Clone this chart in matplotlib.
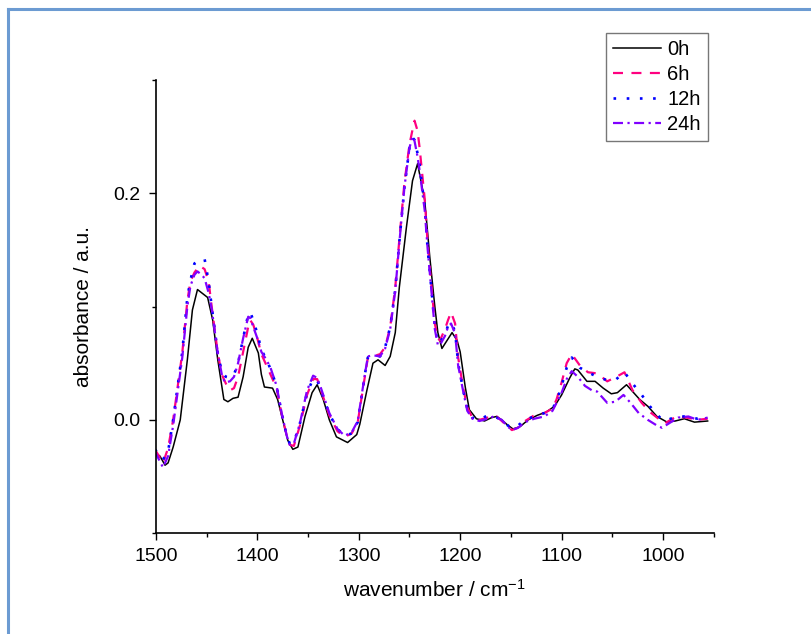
import numpy as np
import matplotlib.pyplot as plt
from matplotlib.lines import Line2D
from matplotlib.ticker import MultipleLocator, FormatStrFormatter

plt.rcParams['font.family'] = ['Liberation Sans', 'DejaVu Sans']
plt.rcParams['mathtext.default'] = 'regular'

# FTIR spectra, absorbance vs wavenumber for each exposure time
wn_0h = [1501, 1496, 1491, 1488, 1483, 1476, 1469, 1464, 1459, 1449, 1444, 1439, 1433, 1429,
         1424, 1419, 1414, 1409, 1405, 1399, 1396, 1393, 1385, 1380, 1375, 1370, 1365, 1360,
         1353, 1346, 1341, 1335, 1329, 1322, 1311, 1302, 1299, 1292, 1286, 1281, 1274, 1269,
         1264, 1260, 1253, 1247, 1242, 1235, 1230, 1225, 1222, 1218, 1213, 1208, 1203, 1200,
         1195, 1191, 1184, 1176, 1169, 1164, 1159, 1154, 1148, 1141, 1133, 1124, 1115, 1107,
         1100, 1092, 1087, 1084, 1075, 1067, 1059, 1051, 1045, 1036, 1031, 1023, 1015, 1006,
         996, 988, 979, 969, 956]
abs_0h = [-0.029, -0.032, -0.040, -0.038, -0.024, 0.000, 0.053, 0.097, 0.115, 0.108, 0.088, 0.053,
          0.018, 0.016, 0.019, 0.020, 0.038, 0.064, 0.072, 0.059, 0.040, 0.029, 0.028, 0.018,
          0.000, -0.018, -0.026, -0.024, 0.003, 0.024, 0.031, 0.018, 0.000, -0.015, -0.020,
          -0.013, -0.004, 0.026, 0.050, 0.053, 0.048, 0.056, 0.077, 0.117, 0.170, 0.211, 0.226,
          0.194, 0.144, 0.100, 0.077, 0.063, 0.070, 0.077, 0.070, 0.060, 0.029, 0.009, 0.001,
          -0.001, 0.002, 0.003, 0.000, -0.004, -0.008, -0.006, 0.000, 0.004, 0.007, 0.012, 0.022,
          0.037, 0.045, 0.044, 0.034, 0.034, 0.028, 0.023, 0.024, 0.031, 0.026, 0.018, 0.012,
          0.003, -0.002, -0.001, 0.001, -0.002, -0.001]

wn_t = [1501, 1493, 1488, 1483, 1474, 1469, 1466, 1462, 1457, 1452, 1448, 1445, 1439, 1435,
        1431, 1427, 1423, 1419, 1414, 1409, 1407, 1404, 1400, 1396, 1391, 1387, 1381, 1376,
        1371, 1368, 1364, 1358, 1351, 1345, 1341, 1338, 1329, 1321, 1314, 1307, 1301, 1294,
        1291, 1286, 1279, 1274, 1269, 1264, 1260, 1255, 1250, 1247, 1245, 1242, 1240, 1235,
        1232, 1228, 1225, 1222, 1220, 1215, 1212, 1209, 1205, 1202, 1197, 1193, 1188, 1181,
        1173, 1164, 1159, 1153, 1149, 1143, 1136, 1127, 1117, 1109, 1105, 1100, 1095, 1090,
        1082, 1074, 1065, 1055, 1046, 1038, 1030, 1021, 1013, 1003, 998, 987, 977, 966, 956]
abs_6h = [-0.026, -0.038, -0.025, 0.000, 0.059, 0.105, 0.122, 0.130, 0.136, 0.133, 0.122, 0.100,
          0.059, 0.040, 0.032, 0.026, 0.028, 0.038, 0.060, 0.082, 0.088, 0.084, 0.072, 0.058,
          0.048, 0.040, 0.028, 0.005, -0.014, -0.022, -0.023, -0.005, 0.022, 0.036, 0.036, 0.028,
          0.004, -0.010, -0.015, -0.012, -0.002, 0.038, 0.055, 0.056, 0.058, 0.064, 0.082, 0.117,
          0.159, 0.209, 0.243, 0.256, 0.264, 0.255, 0.240, 0.195, 0.155, 0.115, 0.085, 0.072,
          0.070, 0.080, 0.088, 0.095, 0.085, 0.055, 0.028, 0.011, 0.002, 0.000, 0.002, 0.003,
          -0.001, -0.006, -0.009, -0.007, -0.001, 0.004, 0.006, 0.010, 0.018, 0.033, 0.050, 0.058,
          0.048, 0.042, 0.041, 0.034, 0.038, 0.042, 0.026, 0.015, 0.007, 0.000, -0.003, 0.003,
          0.002, 0.000, 0.001]
abs_12h = [-0.026, -0.035, -0.028, 0.000, 0.060, 0.108, 0.123, 0.138, 0.141, 0.142, 0.122, 0.100,
           0.059, 0.042, 0.038, 0.037, 0.040, 0.050, 0.072, 0.093, 0.095, 0.088, 0.076, 0.062,
           0.053, 0.045, 0.030, 0.006, -0.014, -0.021, -0.020, -0.003, 0.024, 0.036, 0.035, 0.028,
           0.005, -0.008, -0.014, -0.012, -0.002, 0.040, 0.055, 0.057, 0.056, 0.064, 0.082, 0.115,
           0.157, 0.205, 0.240, 0.249, 0.247, 0.235, 0.225, 0.188, 0.150, 0.112, 0.082, 0.068,
           0.068, 0.076, 0.083, 0.086, 0.078, 0.050, 0.026, 0.010, 0.002, 0.000, 0.004, 0.002,
           0.000, -0.005, -0.007, -0.005, 0.000, 0.003, 0.006, 0.010, 0.016, 0.030, 0.046, 0.055,
           0.046, 0.042, 0.038, 0.035, 0.036, 0.042, 0.032, 0.022, 0.012, 0.002, -0.001, 0.003,
           0.003, 0.001, 0.002]

wn_24h = [1501, 1493, 1488, 1483, 1474, 1469, 1466, 1462, 1459, 1455, 1452, 1448, 1445, 1439,
          1435, 1432, 1427, 1423, 1419, 1414, 1409, 1407, 1404, 1400, 1396, 1391, 1387, 1381,
          1376, 1371, 1368, 1364, 1358, 1351, 1345, 1341, 1338, 1329, 1321, 1314, 1307, 1301,
          1294, 1291, 1286, 1279, 1274, 1269, 1264, 1260, 1255, 1250, 1247, 1245, 1242, 1240,
          1235, 1232, 1228, 1225, 1222, 1220, 1215, 1212, 1209, 1205, 1202, 1197, 1193, 1188,
          1181, 1173, 1167, 1159, 1153, 1149, 1143, 1136, 1127, 1117, 1109, 1105, 1100, 1095,
          1090, 1084, 1077, 1070, 1065, 1055, 1047, 1039, 1032, 1024, 1015, 1006, 1001, 994,
          985, 975, 966, 956]
abs_24h = [-0.028, -0.042, -0.032, -0.005, 0.055, 0.100, 0.118, 0.128, 0.131, 0.128, 0.125, 0.112,
           0.098, 0.059, 0.040, 0.033, 0.034, 0.038, 0.050, 0.072, 0.091, 0.090, 0.082, 0.072,
           0.060, 0.053, 0.046, 0.030, 0.006, -0.014, -0.022, -0.021, -0.003, 0.026, 0.039, 0.037,
           0.030, 0.006, -0.008, -0.014, -0.011, -0.001, 0.040, 0.056, 0.057, 0.056, 0.063, 0.080,
           0.114, 0.156, 0.205, 0.240, 0.250, 0.246, 0.232, 0.220, 0.185, 0.150, 0.110, 0.080,
           0.066, 0.066, 0.074, 0.082, 0.085, 0.076, 0.048, 0.025, 0.008, 0.001, -0.001, 0.001,
           0.003, 0.000, -0.006, -0.009, -0.007, -0.002, 0.001, 0.003, 0.008, 0.015, 0.024, 0.036,
           0.043, 0.038, 0.030, 0.026, 0.025, 0.015, 0.016, 0.022, 0.015, 0.006, 0.000, -0.005,
           -0.007, -0.003, 0.002, 0.003, 0.000, 0.002]

labels = ['0h', '6h', '12h', '24h']

fig = plt.figure(figsize=(8.12, 6.34), dpi=100)
ax = fig.add_axes([0.192, 0.159, 0.687, 0.715])

ax.plot(wn_0h, abs_0h, color='black', lw=1.1, label=labels[0])
ax.plot(wn_t, abs_6h, color='#FF0080', lw=1.6, ls=(0, (4.5, 3.8)), label=labels[1])
ax.plot(wn_t, abs_12h, color='#0000FF', lw=1.9, ls=(0, (1, 4)), label=labels[2])
ax.plot(wn_24h, abs_24h, color='#8000FF', lw=1.6, ls=(0, (4.5, 2, 1, 2)), label=labels[3])

ax.set_xlim(1500, 950)
ax.set_ylim(-0.1, 0.3)
ax.xaxis.set_major_locator(MultipleLocator(100))
ax.xaxis.set_minor_locator(MultipleLocator(50))
ax.yaxis.set_major_locator(MultipleLocator(0.2))
ax.yaxis.set_minor_locator(MultipleLocator(0.1))
ax.yaxis.set_major_formatter(FormatStrFormatter('%.1f'))
ax.tick_params(which='major', direction='out', length=5, width=1, labelsize=14, pad=6)
ax.tick_params(which='minor', direction='out', length=3, width=1)
for side in ['top', 'right']:
    ax.spines[side].set_visible(False)
for side in ['left', 'bottom']:
    ax.spines[side].set_linewidth(1.2)

ax.set_xlabel('wavenumber / cm$^{-1}$', fontsize=15, labelpad=10)
ax.set_ylabel('absorbance / a.u.', fontsize=15, labelpad=15)

leg = ax.legend(loc='upper right', bbox_to_anchor=(708 / 812, 1 - 33 / 634),
                bbox_transform=fig.transFigure, fontsize=14.5, frameon=True, fancybox=False,
                handlelength=2.4, handletextpad=0.3, borderpad=0.35, labelspacing=0.3,
                borderaxespad=0)
leg.get_frame().set_edgecolor('#555555')
leg.get_frame().set_linewidth(1.0)

# page border around the figure
fig.add_artist(Line2D([8.5 / 812, 8.5 / 812], [0, 1 - 8.5 / 634], transform=fig.transFigure,
                      color='#6c9bd2', lw=2.2))
fig.add_artist(Line2D([8.5 / 812, 1], [1 - 8.5 / 634, 1 - 8.5 / 634], transform=fig.transFigure,
                      color='#6c9bd2', lw=2.2))

fig.savefig('out.png', dpi=100)
